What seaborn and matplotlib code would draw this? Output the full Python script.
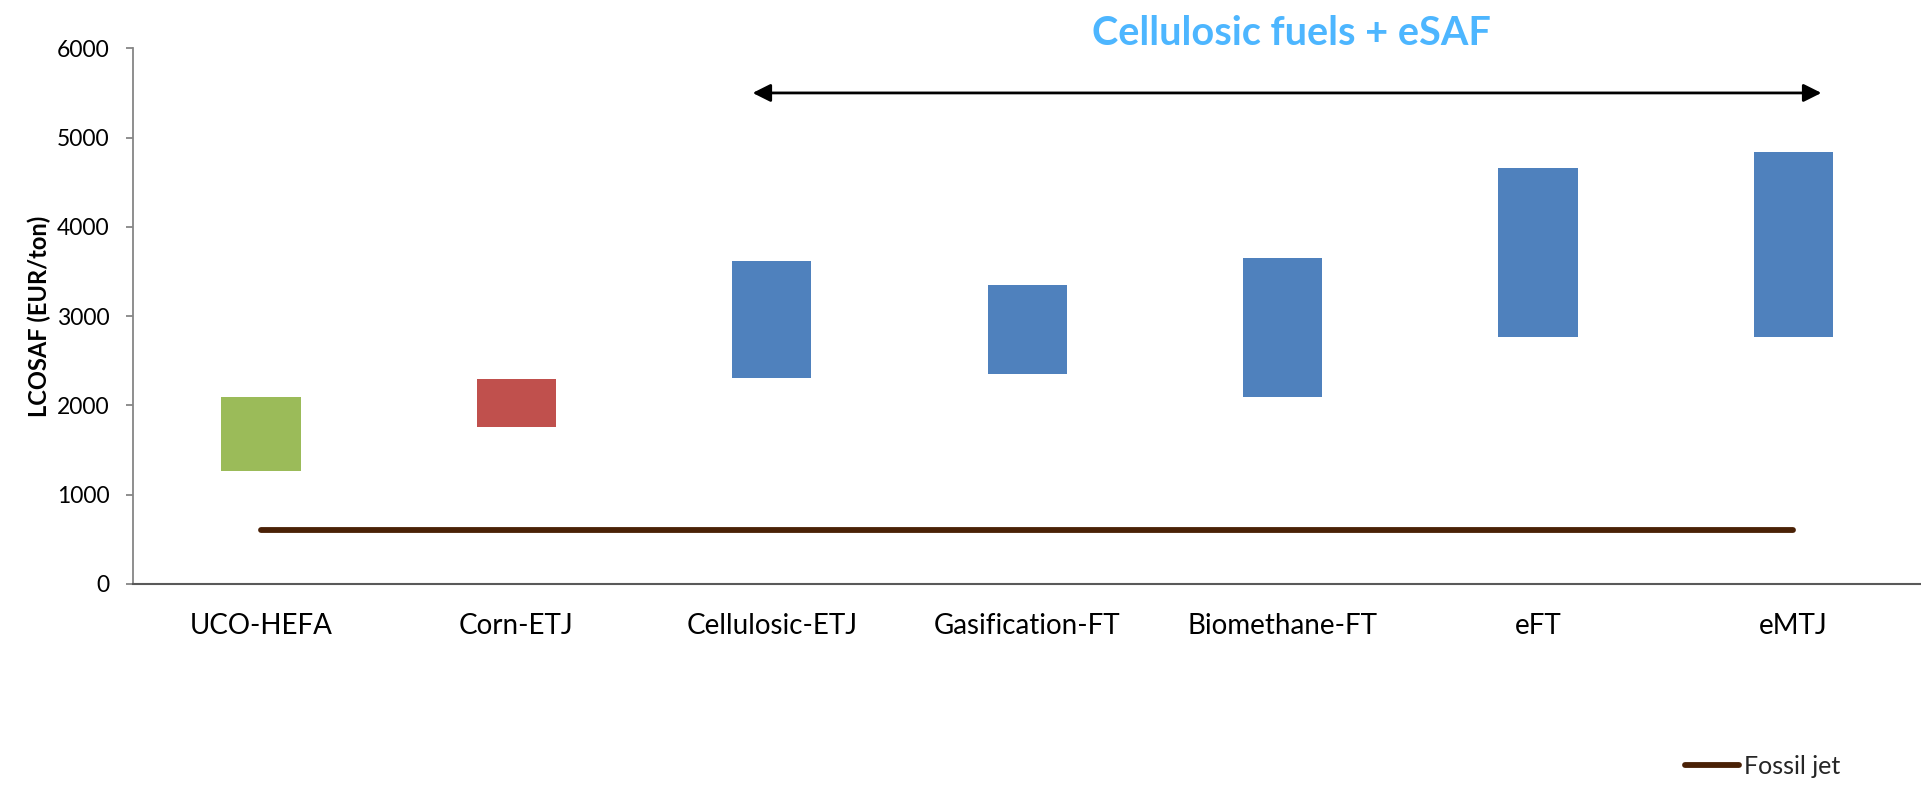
import matplotlib
matplotlib.use("Agg")
import matplotlib.pyplot as plt
from matplotlib.lines import Line2D
import numpy as np
import pandas as pd
import seaborn as sns

# Levelised cost ranges of sustainable aviation fuel pathways (EUR/ton)
pathways = ["UCO-HEFA", "Corn-ETJ", "Cellulosic-ETJ", "Gasification-FT",
            "Biomethane-FT", "eFT", "eMTJ"]
cost_low = [1270, 1760, 2310, 2350, 2090, 2770, 2770]
cost_high = [2100, 2300, 3620, 3350, 3650, 4660, 4840]
bar_colors = ["#9BBB59", "#C0504D", "#4F81BD", "#4F81BD", "#4F81BD",
              "#4F81BD", "#4F81BD"]
fossil_jet = 600
y_ticks = [0, 1000, 2000, 3000, 4000, 5000, 6000]
group_label = "Cellulosic fuels + eSAF"

sns.set_theme(style="white")
plt.rcParams["font.family"] = ["Lato", "DejaVu Sans"]

df = pd.DataFrame({"pathway": pathways,
                   "low": cost_low,
                   "high": cost_high})
df["span"] = df["high"] - df["low"]

W, H = 1921, 787
fig = plt.figure(figsize=(W / 100, H / 100), dpi=100)
ax_left, ax_right, ax_top, ax_bottom = 133.3, 1921, 48.3, 584
ax = fig.add_axes([ax_left / W, 1 - ax_bottom / H,
                   (ax_right - ax_left) / W, (ax_bottom - ax_top) / H])

# Floating bars: draw the span, then lift each bar to its low value
sns.barplot(data=df, x="pathway", y="span", hue="pathway",
            palette=dict(zip(pathways, bar_colors)), width=0.31,
            legend=False, saturation=1, linewidth=0, ax=ax)
for patch in ax.patches:
    idx = int(round(patch.get_x() + patch.get_width() / 2))
    patch.set_y(df["low"].iloc[idx])

# Fossil jet reference price
xs = np.arange(len(pathways))
ax.plot([xs[0], xs[-1]], [fossil_jet, fossil_jet], color="#4A2106",
        lw=4.2, solid_capstyle="round", zorder=3)

ax.set_xlim(-0.5, len(pathways) - 0.5)
ax.set_ylim(0, 6000)
ax.set_yticks(y_ticks)
ax.set_yticklabels([str(t) for t in y_ticks])
ax.set_xlabel("")
ax.set_ylabel("LCOSAF (EUR/ton)", fontsize=17, fontweight="bold",
              color="black")
ax.yaxis.set_label_coords(-0.0458, 0.5)

for side in ["top", "right"]:
    ax.spines[side].set_visible(False)
ax.spines["left"].set_color("#868686")
ax.spines["left"].set_linewidth(1.3)
ax.spines["bottom"].set_color("#595959")
ax.spines["bottom"].set_linewidth(1.5)
ax.tick_params(axis="y", which="major", direction="out", length=5,
               width=1.3, color="#868686", labelsize=16.5, pad=12,
               labelcolor="black", left=True)
ax.tick_params(axis="x", which="major", length=0, labelsize=20, pad=21,
               labelcolor="black")

# Bracket over the advanced pathways
ax.annotate("", xy=(6.11, 5500), xytext=(1.925, 5500),
            arrowprops=dict(arrowstyle="<|-|>,head_length=0.6,head_width=0.3",
                            mutation_scale=18, color="black", lw=2,
                            shrinkA=0, shrinkB=0),
            annotation_clip=False)
fig.text(1291 / W, 1 - 45 / H, group_label, ha="center", va="baseline",
         fontsize=28.5, fontweight="bold", color="#4DB6FF")

handle = Line2D([], [], color="#4A2106", lw=4.2, solid_capstyle="round")
fig.legend([handle], ["Fossil jet"], loc="center left",
           bbox_to_anchor=(1685 / W, 1 - 766 / H), frameon=False,
           fontsize=18, handlelength=2.15, handletextpad=0.2,
           borderpad=0, borderaxespad=0)

fig.savefig("out.png", dpi=100)
